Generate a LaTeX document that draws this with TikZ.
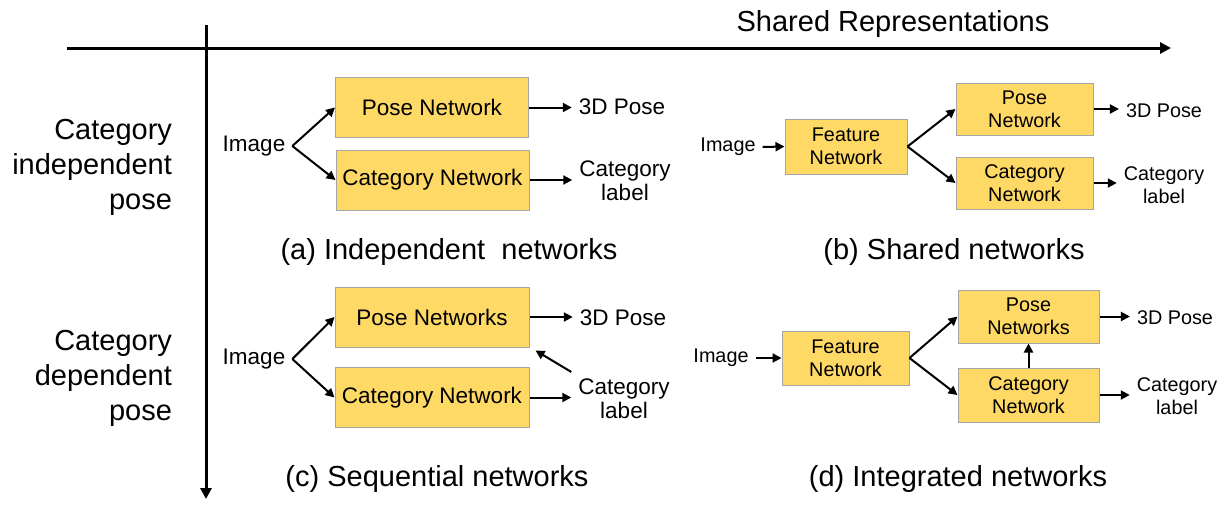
\documentclass[tikz,border=0pt]{standalone}
\usepackage{fontspec}
\setmainfont{Liberation Sans}
\usetikzlibrary{arrows.meta,positioning}
\definecolor{gold}{RGB}{255,217,102}
\definecolor{rim}{RGB}{165,165,165}
\definecolor{ink}{RGB}{0,0,0}
\tikzset{
  >={Triangle[length=4.5pt,width=4.5pt]},
  netbox/.style={draw=rim,fill=gold,line width=0.5pt,minimum width=#1,minimum height=30pt,
    align=center,inner sep=1pt,font=\fontsize{11.25}{12}\selectfont},
  netbox/.default=96.5pt,
  minibox/.style={draw=rim,fill=gold,line width=0.5pt,minimum width=#1,minimum height=26.5pt,
    align=center,inner sep=1pt,font=\fontsize{9.9}{11.5}\selectfont},
  minibox/.default=68.5pt,
  flow/.style={->,line width=1pt,draw=ink},
  tag/.style={font=\fontsize{11.25}{12}\selectfont,align=center,text=ink},
  minitag/.style={font=\fontsize{9.9}{11.5}\selectfont,align=center,text=ink},
  big/.style={font=\fontsize{14.5}{17.5}\selectfont,align=#1,text=ink},
  big/.default=center,
  axisline/.style={-{Triangle[length=5.5pt,width=5.5pt]},line width=1.5pt,draw=ink},
}

\begin{document}
\begin{tikzpicture}[x=0.5pt,y=-0.5pt]
  \useasboundingbox (0,0) rectangle (1230,520);
  % axes
  \coordinate (xstart) at (67,48);
  \coordinate (xend) at (1171,48);
  \coordinate (ystart) at (206,25);
  \coordinate (yend) at (206,499);
  \draw[axisline] (xstart) -- (xend);
  \draw[axisline] (ystart) -- (yend);
  \node[big] (shared) at (893,24) {Shared Representations};
  \node[big=right,anchor=east] (rowind) at (179,167) {Category\\independent\\pose};
  \node[big=right,anchor=east] (rowdep) at (179,378) {Category\\dependent\\pose};

  % (a) independent
  \node[tag] (imga) at (254,146) {Image};
  \node[netbox] (posea) at (432,107.5) {Pose Network};
  \node[netbox] (cata) at (432.5,180) {Category Network};
  \node[tag] (outa) at (622,107) {3D Pose};
  \node[tag] (laba) at (625,181) {Category\\label};
  \draw[flow] (imga.east) -- (posea.west);
  \draw[flow] (imga.east) -- (cata.west);
  \draw[flow] (posea.east) -- (posea.east -| outa.west);
  \draw[flow] (cata.east) -- (cata.east -| laba.west);
  \node[big] (capa) at (449,252) {(a) Independent\ \ networks};

  % (b) shared
  \node[minitag] (imgb) at (728,147) {Image};
  \node[minibox=61pt,minimum height=27.5pt] (featb) at (846,146.5) {Feature\\Network};
  \node[minibox,minimum height=26pt] (poseb) at (1024.5,109) {Pose\\Network};
  \node[minibox,minimum height=26pt] (catb) at (1024.5,183) {Category\\Network};
  \node[minitag] (outb) at (1164,111) {3D Pose};
  \node[minitag] (labb) at (1164,185) {Category\\label};
  \draw[flow] (imgb.east) -- (featb.west);
  \draw[flow] (featb.east) -- (poseb.west);
  \draw[flow] (featb.east) -- (catb.west);
  \draw[flow] (poseb.east) -- (poseb.east -| outb.west);
  \draw[flow] (catb.east) -- (catb.east -| labb.west);
  \node[big] (capb) at (954,252) {(b) Shared networks};

  % (c) sequential
  \node[tag] (imgc) at (254,359) {Image};
  \node[netbox=97pt] (posec) at (432,317) {Pose Networks};
  \node[netbox=97pt] (catc) at (432,397.5) {Category Network};
  \node[tag] (outc) at (623,318) {3D Pose};
  \node[tag] (labc) at (624,399) {Category\\label};
  \draw[flow] (imgc.east) -- (posec.west);
  \draw[flow] (imgc.east) -- (catc.west);
  \draw[flow] (posec.east) -- (posec.east -| outc.west);
  \draw[flow] (catc.east) -- (catc.east -| labc.west);
  \draw[flow] (labc.north west) -- ([shift={(6,3)}]posec.south east);
  \node[big] (capc) at (437,479) {(c) Sequential networks};

  % (d) integrated
  \node[minitag] (imgd) at (721,358) {Image};
  \node[minibox=63.5pt,minimum height=27pt] (featd) at (845.5,358) {Feature\\Network};
  \node[minibox=70.5pt] (posed) at (1028.5,316.5) {Pose\\Networks};
  \node[minibox=70.5pt,minimum height=27pt] (catd) at (1028.5,395) {Category\\Network};
  \node[minitag] (outd) at (1175,318) {3D Pose};
  \node[minitag] (labd) at (1177,396) {Category\\label};
  \draw[flow] (imgd.east) -- (featd.west);
  \draw[flow] (featd.east) -- (posed.west);
  \draw[flow] (featd.east) -- (catd.west);
  \draw[flow] (catd.north) -- (posed.south);
  \draw[flow] (posed.east) -- (posed.east -| outd.west);
  \draw[flow] (catd.east) -- (catd.east -| labd.west);
  \node[big] (capd) at (958,479) {(d) Integrated networks};
\end{tikzpicture}
\end{document}
